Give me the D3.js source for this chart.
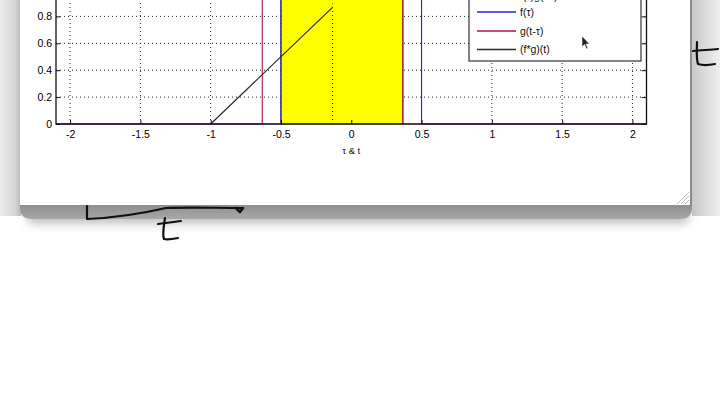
<!DOCTYPE html>
<head>
<meta charset="utf-8">
<style>
  body { margin: 0; background: #fff; }
  .tick text { font-family: "Liberation Sans", Arial, sans-serif; font-size: 10.5px; }
</style>
</head>
<body>
<div id="chart"></div>
<script src="https://cdnjs.cloudflare.com/ajax/libs/d3/7.8.5/d3.min.js"></script>
<script type="text/javascript">

// tick values (the top of the axes is off screen)
var xTicks = [-2, -1.5, -1, -0.5, 0, 0.5, 1, 1.5, 2];
var yTicks = [0, 0.2, 0.4, 0.6, 0.8];

// current shift t, pulses and the running convolution
var tNow = -0.133;
var fTau = [-2.1, -0.5, -0.5, 0.5, 0.5, 2.1];
var fVal = [0, 0, 1, 1, 0, 0];
var gTau = [-2.1, -0.633, -0.633, 0.367, 0.367, 2.1];
var gVal = [0, 0, 1, 1, 0, 0];
var convT = [-1, -0.133];
var convVal = [0, 0.867];
var overlap = [-0.5, 0.367];

var legendLabels = ["f(\u03c4)g(t-\u03c4) area", "f(\u03c4)", "g(t-\u03c4)", "(f*g)(t)"];
var legendColors = ["#ffff00", "#2424d0", "#b0104a", "#2a2a2a"];

var W = 720, H = 404;
var svg = d3.select("#chart").append("svg").attr("width", W).attr("height", H);
var defs = svg.append("defs");

// --- window frame & shadows
var gl = defs.append("linearGradient").attr("id", "leftShade");
gl.append("stop").attr("offset", "0").attr("stop-color", "#ececec");
gl.append("stop").attr("offset", "0.7").attr("stop-color", "#d6d6d6");
gl.append("stop").attr("offset", "1").attr("stop-color", "#b8b8b8");
var gr = defs.append("linearGradient").attr("id", "rightShade");
gr.append("stop").attr("offset", "0").attr("stop-color", "#c8c8c8");
gr.append("stop").attr("offset", "1").attr("stop-color", "#f0f0f0");
var gb = defs.append("linearGradient").attr("id", "bottomBand").attr("x1", 0).attr("x2", 0).attr("y1", 0).attr("y2", 1);
gb.append("stop").attr("offset", "0").attr("stop-color", "#858585");
gb.append("stop").attr("offset", "1").attr("stop-color", "#a8a8a8");
defs.append("filter").attr("id", "blur").attr("x", "-10%").attr("y", "-50%").attr("width", "120%").attr("height", "200%")
  .append("feGaussianBlur").attr("stdDeviation", 5);

svg.append("rect").attr("x", 0).attr("y", 0).attr("width", 21).attr("height", 216).attr("fill", "url(#leftShade)");
svg.append("rect").attr("x", 692).attr("y", 0).attr("width", 28).attr("height", 216).attr("fill", "url(#rightShade)");
svg.append("rect").attr("x", 26).attr("y", 208).attr("width", 664).attr("height", 16).attr("rx", 10)
  .attr("fill", "#9a9a9a").attr("opacity", 0.6).attr("filter", "url(#blur)");
svg.append("path").attr("d", "M20,200 L692,200 L692,208 Q692,219 680,219 L32,219 Q20,219 20,208 Z")
  .attr("fill", "url(#bottomBand)");
svg.append("rect").attr("x", 689).attr("y", 0).attr("width", 3).attr("height", 206).attr("fill", "#8c8c8c");
svg.append("rect").attr("x", 20).attr("y", 0).attr("width", 670).attr("height", 205).attr("fill", "#fff");
// resize grip
var grip = svg.append("g").attr("stroke", "#aaa").attr("stroke-width", 0.8);
[4, 8, 12].forEach(function(k) {
  grip.append("line").attr("x1", 689 - k).attr("y1", 204).attr("x2", 689).attr("y2", 204 - k);
});

// --- axes
var x = d3.scaleLinear().domain([-2.1, 2.1]).range([56, 646.5]);
var y = d3.scaleLinear().domain([0, 1.2]).range([124, 124 - 1.2 * 134.5]);
var x0 = x.range()[0], x1 = x.range()[1], yBot = y(0), yTop = y(1.2);

var plot = svg.append("g");

// dotted grid
plot.append("g").selectAll("line").data(xTicks).enter().append("line")
  .attr("x1", d => x(d)).attr("x2", d => x(d)).attr("y1", yBot).attr("y2", yTop)
  .attr("stroke", "#222").attr("stroke-width", 1).attr("stroke-dasharray", "1,3");
plot.append("g").selectAll("line").data(yTicks.slice(1)).enter().append("line")
  .attr("x1", x0).attr("x2", x1).attr("y1", d => y(d)).attr("y2", d => y(d))
  .attr("stroke", "#222").attr("stroke-width", 1).attr("stroke-dasharray", "1,3");

// overlap area
plot.append("rect").attr("x", x(overlap[0])).attr("y", y(1))
  .attr("width", x(overlap[1]) - x(overlap[0])).attr("height", yBot - y(1))
  .attr("fill", "#ffff00").attr("stroke", "#333").attr("stroke-width", 1);

// marker at t
plot.append("line").attr("x1", x(tNow)).attr("x2", x(tNow)).attr("y1", yBot).attr("y2", y(convVal[1]) - 4)
  .attr("stroke", "#333").attr("stroke-width", 1).attr("stroke-dasharray", "1,3");

var line = d3.line().x(d => x(d[0])).y(d => y(d[1]));
plot.append("path").datum(d3.zip(fTau, fVal)).attr("d", line)
  .attr("fill", "none").attr("stroke", legendColors[1]).attr("stroke-width", 1.1);
plot.append("path").datum(d3.zip(gTau, gVal)).attr("d", line)
  .attr("fill", "none").attr("stroke", legendColors[2]).attr("stroke-width", 1.1);
plot.append("path").datum(d3.zip(convT, convVal)).attr("d", line)
  .attr("fill", "none").attr("stroke", legendColors[3]).attr("stroke-width", 1.2);

// box and axes
var fmt = d => String(d);
var xAxis = d3.axisBottom(x).tickValues(xTicks).tickSize(-4).tickPadding(7).tickFormat(fmt);
plot.append("g").attr("class", "x axis").attr("transform", "translate(0," + yBot + ")").call(xAxis);
var yAxis = d3.axisLeft(y).tickValues(yTicks).tickSize(-4).tickPadding(4).tickFormat(fmt);
plot.append("g").attr("class", "y axis").attr("transform", "translate(" + x0 + ",0)").call(yAxis);
var yAxisR = d3.axisRight(y).tickValues(yTicks).tickSize(-5).tickFormat("");
plot.append("g").attr("transform", "translate(" + x1 + ",0)").call(yAxisR);
plot.selectAll(".domain").remove();
plot.selectAll(".tick line").attr("stroke", "#111");
plot.selectAll(".tick text").attr("fill", "#000");
plot.append("rect").attr("x", x0).attr("y", yTop).attr("width", x1 - x0).attr("height", yBot - yTop)
  .attr("fill", "none").attr("stroke", "#111").attr("stroke-width", 1.3);

svg.append("text").attr("x", x(0)).attr("y", 154).attr("text-anchor", "middle")
  .attr("font-family", "Liberation Sans, Arial, sans-serif").attr("font-size", 9.5).attr("fill", "#111")
  .text("\u03c4 & t");

// legend
var leg = svg.append("g").attr("transform", "translate(469,0)");
leg.append("rect").attr("x", 0).attr("y", -12).attr("width", 172).attr("height", 73)
  .attr("fill", "#fff").attr("stroke", "#333").attr("stroke-width", 1.2);
var rowY = [-4, 12, 31, 49.5];
legendLabels.forEach(function(lab, i) {
  if (i === 0) {
    leg.append("rect").attr("x", 8).attr("y", rowY[i] - 4).attr("width", 39).attr("height", 5.5)
      .attr("fill", legendColors[0]).attr("stroke", "#555").attr("stroke-width", 1);
  } else {
    leg.append("line").attr("x1", 8).attr("x2", 47).attr("y1", rowY[i]).attr("y2", rowY[i])
      .attr("stroke", legendColors[i]).attr("stroke-width", 1.4);
  }
  leg.append("text").attr("x", 51).attr("y", rowY[i] + 3.5)
    .attr("font-family", "Liberation Sans, Arial, sans-serif").attr("font-size", 10.5).attr("fill", "#111")
    .text(lab);
});
// mouse pointer
svg.append("path").attr("d", "M582,36 L582,47 L584.5,44.5 L586.5,49 L588,48.3 L586,44 L589.5,44 Z")
  .attr("fill", "#222").attr("stroke", "#fff").attr("stroke-width", 0.6);

// handwriting
var ink = svg.append("g").attr("fill", "none").attr("stroke", "#111").attr("stroke-width", 2.2)
  .attr("stroke-linecap", "round").attr("stroke-linejoin", "round");
ink.append("path").attr("d", "M87,206 L87,219 C110,218 140,214 166,208 C190,207 215,208 242,208");
ink.append("path").attr("d", "M236,208 L240,212 L243,208").attr("stroke-width", 2.5);
ink.append("path").attr("d", "M165,218 C164,226 162,234 164,239 C168,240 173,239 178,238");
ink.append("path").attr("d", "M158,224 C166,223 174,222 181,221");
ink.append("path").attr("d", "M697,42 C697,50 696,58 698,64 C704,66 710,65 715,64");
ink.append("path").attr("d", "M693,51 C701,50 710,50 718,49");

</script>
</body>
